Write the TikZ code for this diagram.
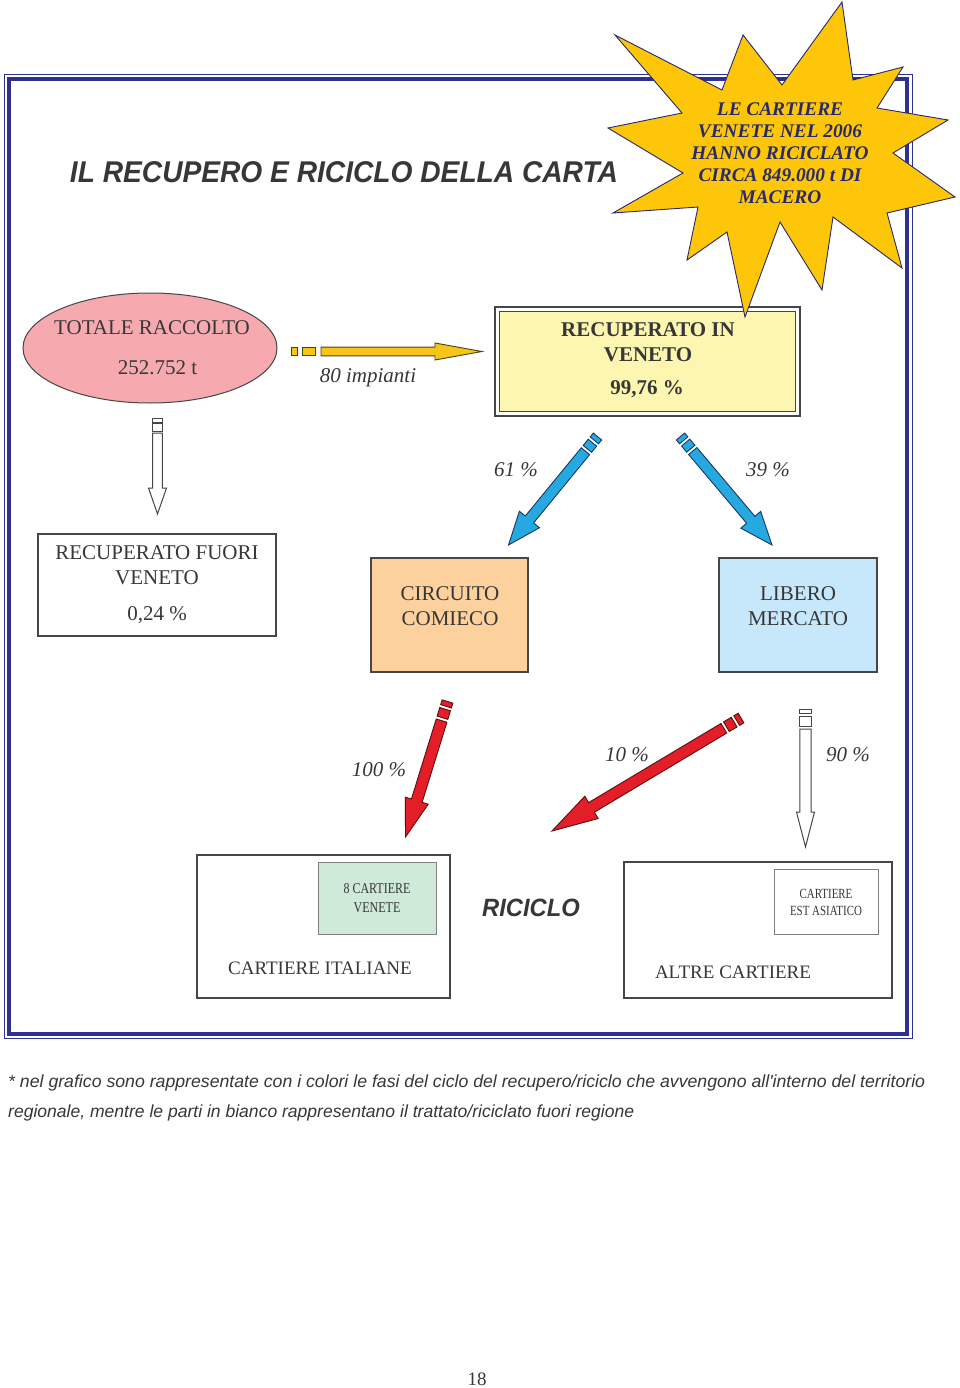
\documentclass[tikz,border=0pt]{standalone}
\usepackage{fontspec}
\usepackage{graphicx}
\setmainfont{Liberation Serif}
\newfontfamily\arialf{Liberation Sans}
\usetikzlibrary{shapes.geometric}

\definecolor{navy}{RGB}{46,49,146}
\definecolor{txtc}{RGB}{55,55,55}
\definecolor{linec}{RGB}{70,70,70}
\definecolor{starc}{RGB}{253,198,8}
\definecolor{starline}{RGB}{40,40,110}
\definecolor{startxt}{RGB}{40,42,105}
\definecolor{pinkc}{RGB}{246,170,176}
\definecolor{lyellow}{RGB}{253,246,176}
\definecolor{peach}{RGB}{252,209,158}
\definecolor{lblue}{RGB}{199,232,250}
\definecolor{lgreen}{RGB}{208,234,218}
\definecolor{yarrow}{RGB}{246,197,27}
\definecolor{yarrowline}{RGB}{80,62,10}
\definecolor{barrow}{RGB}{38,168,224}
\definecolor{barrowline}{RGB}{25,55,100}
\definecolor{rarrow}{RGB}{228,30,40}
\definecolor{rarrowline}{RGB}{90,15,15}

\newcommand{\fA}{\fontsize{21}{25}\selectfont}

% #1 style, #2 tail, #3 tip, #4 shaft half width, #5 head half width,
% #6 head length, #7 first square length, #8 second square length, #9 gap
\newcommand{\fatarrow}[9]{%
  \path (#2); \pgfgetlastxy{\fax}{\fay}%
  \path (#3); \pgfgetlastxy{\fbx}{\fby}%
  \pgfmathsetmacro\fang{atan2((\fby)-(\fay),(\fbx)-(\fax))}%
  \pgfmathsetmacro\flen{veclen((\fbx)-(\fax),(\fby)-(\fay))}%
  \pgfmathsetmacro\fsa{#7+#9}%
  \pgfmathsetmacro\fsb{#7+#9+#8}%
  \pgfmathsetmacro\fs{#7+#9+#8+#9}%
  \pgfmathsetmacro\fh{\flen-#6}%
  \begin{scope}[shift={(\fax,\fay)},rotate=\fang,x=1pt,y=1pt]
    \filldraw[#1] (0,-#4) rectangle (#7,#4);
    \filldraw[#1] (\fsa,-#4) rectangle (\fsb,#4);
    \filldraw[#1] (\fs,-#4) -- (\fh,-#4) -- (\fh,-#5) -- (\flen,0)
      -- (\fh,#5) -- (\fh,#4) -- (\fs,#4) -- cycle;
  \end{scope}}

\tikzset{
  tl/.style={inner sep=0pt, text=txtc, text depth=0pt, anchor=center, font=\fA},
  lab/.style={tl, font=\fA\itshape},
  boxw/.style={draw=linec, line width=1.1pt, inner sep=0pt},
  yarr/.style={fill=yarrow, draw=yarrowline, line width=0.9pt, line join=miter},
  barr/.style={fill=barrow, draw=barrowline, line width=0.9pt, line join=miter},
  rarr/.style={fill=rarrow, draw=rarrowline, line width=0.9pt, line join=miter},
  warr/.style={fill=white, draw=linec, line width=1pt, line join=miter},
}

\begin{document}
\begin{tikzpicture}[x=1pt,y=-1pt]
\useasboundingbox (0,0) rectangle (960,1388);
\fill[white] (0,0) rectangle (960,1388);

% frame
\draw[navy, line width=1pt] (4,74.5) rectangle (912,1038.5);
\draw[navy, line width=4pt] (9,79.3) rectangle (907,1033.5);

% title
\node[inner sep=0pt, anchor=base, text=txtc] (title) at (344,183)
  {\resizebox{548pt}{\height}{\fontsize{30}{34}\selectfont\arialf\bfseries\itshape IL RECUPERO E RICICLO DELLA CARTA}};

% ellipse
\node[ellipse, draw=linec, line width=1pt, fill=pinkc, minimum width=254pt, minimum height=110pt, inner sep=0pt] (tot) at (150,348) {};
\node[tl] (totA) at (152,328) {TOTALE RACCOLTO};
\node[tl] (totB) at (157.5,368) {252.752 t};

% yellow box
\node[draw=linec, line width=1.2pt, fill=white, minimum width=305pt, minimum height=109pt, inner sep=0pt] (recO) at (647.5,361.5) {};
\node[draw=linec, line width=1.2pt, fill=lyellow, minimum width=296pt, minimum height=100pt, inner sep=0pt] (rec) at (647.5,361.5) {};
\node[tl, font=\fA\bfseries] (recA) at (648,330) {RECUPERATO IN};
\node[tl, font=\fA\bfseries] (recB) at (648,355) {VENETO};
\node[tl, font=\fA\bfseries] (recC) at (647,388) {99,76 \%};

% yellow arrow
\coordinate (ya1) at (291.5,351.5);
\coordinate (ya2) at (482,351.5);
\fatarrow{yarr}{ya1}{ya2}{4.4}{8.5}{47}{5.5}{13}{5.5}
\node[lab] (imp) at (368,376) {80 impianti};

% star
\filldraw[fill=starc, draw=starline, line width=0.9pt, line join=miter]
  (615,35) -- (722,90) -- (743,35) -- (782,85) -- (842,2) -- (853,80)
  -- (903,67) -- (877,108) -- (948,120) -- (893,153) -- (955,197)
  -- (887,213) -- (902,268) -- (833,217) -- (822,290) -- (780,222)
  -- (745,317) -- (727,232) -- (687,260) -- (698,207) -- (613,213)
  -- (683,173) -- (608,128) -- (682,113) -- cycle;
\node[inner sep=0pt, text=startxt, align=center, font=\fontsize{19.3}{22}\selectfont\bfseries\itshape] (startext) at (780,153)
  {LE CARTIERE\\VENETE NEL 2006\\HANNO RICICLATO\\CIRCA 849.000 t DI\\MACERO};

% white arrow down (left)
\coordinate (wa1) at (157.5,418);
\coordinate (wa2) at (157.5,514);
\fatarrow{warr}{wa1}{wa2}{4.8}{9}{26}{4}{8}{1.5}

% blue arrows
\coordinate (ba1) at (597.5,436.5);
\coordinate (ba2) at (508.5,545);
\fatarrow{barr}{ba1}{ba2}{5.4}{13}{33}{5}{8}{3}
\coordinate (bb1) at (680.5,436.5);
\coordinate (bb2) at (772,545);
\fatarrow{barr}{bb1}{bb2}{5.4}{13}{33}{5}{8}{3}
\node[lab] (l61) at (516,470) {61 \%};
\node[lab] (l39) at (768,470) {39 \%};

% middle boxes
\node[boxw, fill=white, minimum width=238pt, minimum height=102pt] (fuori) at (157,585) {};
\node[tl] (fuoriA) at (157,553) {RECUPERATO FUORI};
\node[tl] (fuoriB) at (157,578) {VENETO};
\node[tl] (fuoriC) at (157,614) {0,24 \%};

\node[boxw, fill=peach, minimum width=157pt, minimum height=114pt] (comieco) at (449.5,615) {};
\node[tl] (comA) at (450,594) {CIRCUITO};
\node[tl] (comB) at (450,619) {COMIECO};

\node[boxw, fill=lblue, minimum width=158pt, minimum height=114pt] (libero) at (798,615) {};
\node[tl] (libA) at (798,594) {LIBERO};
\node[tl] (libB) at (798,619) {MERCATO};

% red arrows
\coordinate (ra1) at (447.5,701.5);
\coordinate (ra2) at (405.5,837);
\fatarrow{rarr}{ra1}{ra2}{5.6}{12}{38}{5}{9}{3}
\coordinate (rb1) at (741,718);
\coordinate (rb2) at (552,831);
\fatarrow{rarr}{rb1}{rb2}{5.6}{13}{46}{5}{9}{3}
% white arrow (right)
\coordinate (wb1) at (805.5,709);
\coordinate (wb2) at (805.5,847);
\fatarrow{warr}{wb1}{wb2}{5.6}{9}{35}{4}{10}{3}
\node[lab] (l100) at (379,770) {100 \%};
\node[lab] (l10) at (627,755) {10 \%};
\node[lab] (l90) at (848,755) {90 \%};

% bottom boxes
\node[boxw, fill=white, minimum width=253pt, minimum height=143pt] (ital) at (323.5,926.5) {};
\node[draw=gray, line width=0.8pt, fill=lgreen, minimum width=118pt, minimum height=72pt, inner sep=0pt] (ven) at (377,898) {};
\node[tl, font=\fontsize{15}{19}\selectfont] (venA) at (377,889) {\scalebox{0.8}[1]{8 CARTIERE}};
\node[tl, font=\fontsize{15}{19}\selectfont] (venB) at (377,908) {\scalebox{0.8}[1]{VENETE}};
\node[tl, font=\fontsize{19}{23}\selectfont] (italT) at (320,968) {CARTIERE ITALIANE};

\node[inner sep=0pt, text=txtc, anchor=center] (ricic) at (531,908)
  {\scalebox{0.95}[1]{\fontsize{25}{29}\selectfont\arialf\bfseries\itshape RICICLO}};

\node[boxw, fill=white, minimum width=268pt, minimum height=136pt] (altre) at (758,930) {};
\node[draw=gray, line width=0.8pt, fill=white, minimum width=104pt, minimum height=65pt, inner sep=0pt] (est) at (826,901.5) {};
\node[tl, font=\fontsize{14}{17}\selectfont] (estA) at (826,894) {\scalebox{0.78}[1]{CARTIERE}};
\node[tl, font=\fontsize{14}{17}\selectfont] (estB) at (826,911) {\scalebox{0.78}[1]{EST ASIATICO}};
\node[tl, font=\fontsize{19}{23}\selectfont] (altreT) at (733,972) {ALTRE CARTIERE};

% footnote
\node[inner sep=0pt, anchor=base west, text=txtc] (fn1) at (8,1087)
  {\resizebox{917pt}{\height}{\fontsize{17.5}{20}\selectfont\arialf\itshape * nel grafico sono rappresentate con i colori le fasi del ciclo del recupero/riciclo che avvengono all'interno del territorio}};
\node[inner sep=0pt, anchor=base west, text=txtc] (fn2) at (8,1117)
  {\resizebox{626pt}{\height}{\fontsize{17.5}{20}\selectfont\arialf\itshape regionale, mentre le parti in bianco rappresentano il trattato/riciclato fuori regione}};

% page number
\node[tl, font=\fontsize{19}{23}\selectfont] (page) at (477,1379) {18};
\end{tikzpicture}
\end{document}
